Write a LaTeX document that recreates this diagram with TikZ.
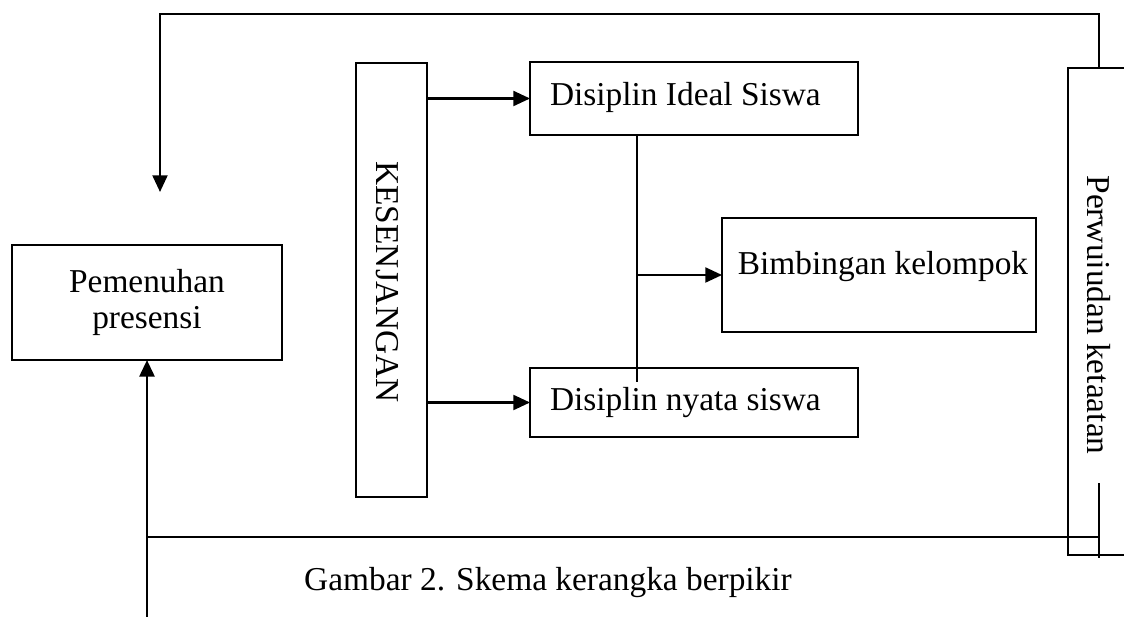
\documentclass[tikz,border=0pt]{standalone}
\usepackage{fontspec}
\setmainfont{Liberation Serif}
\usetikzlibrary{arrows.meta,calc}
\begin{document}
\begin{tikzpicture}[x=0.02cm,y=-0.02cm,
  box/.style={draw, line width=1.1pt, inner sep=0pt, outer sep=0pt},
  conn/.style={line width=1.3pt},
  arr/.style={conn, -{Triangle[length=9.5pt,width=8.5pt]}},
  txt/.style={font=\fontsize{19}{23}\selectfont, inner sep=0pt, outer sep=0pt}]
\useasboundingbox (0,0) rectangle (1124,617);

% boxes
\node[box, minimum width=5.4cm,  minimum height=2.3cm]  (pem)   at (147,302.5) {};
\node[box, minimum width=1.42cm, minimum height=8.68cm] (kes)   at (391.5,280) {};
\node[box, minimum width=6.56cm, minimum height=1.46cm] (ideal) at (694,98.5) {};
\node[box, minimum width=6.56cm, minimum height=1.38cm] (nyata) at (694,402.5) {};
\node[box, minimum width=6.28cm, minimum height=2.28cm] (bimb)  at (879,275) {};
\node[box, minimum width=1.64cm, minimum height=9.74cm] (perw)  at (1109,311.5) {};

% box labels
\node[txt, anchor=base] at (147,293) {Pemenuhan};
\node[txt, anchor=base] at (147,329) {presensi};
\node[txt, rotate=-90, anchor=base] at (376,282) {KESENJANGAN};
\node[txt, anchor=base west] at (550,106) {Disiplin Ideal Siswa};
\node[txt, anchor=base west] at (550,411) {Disiplin nyata siswa};
\node[txt, anchor=base] at (883,275) {Bimbingan kelompok};
\begin{scope}
  \clip (1087,0) rectangle (1124,617);
  \node[txt, rotate=-90, anchor=base] at (1087,315) {Perwujudan ketaatan};
\end{scope}

% helper points
\coordinate (rx)    at (1099,14);
\coordinate (drop)  at (160,192);
\coordinate (foot)  at (147,617);
\coordinate (hl)    at (147,537);
\coordinate (hr)    at (1099,537);
\coordinate (stubt) at (1099,483);
\coordinate (stubb) at (1099,558);
\coordinate (spine) at (637,382);

% feedback loop over the top
\draw[arr] (perw.north -| rx) -- (rx) -- (drop |- rx) -- (drop);

% bottom line and arrow into the left box
\draw[arr, line width=1.7pt] (foot) -- (pem.south);
\draw[conn] (hl) -- (hr);
\draw[conn] (stubt) -- (stubb);

% gap arrows
\draw[arr] (kes.east |- ideal.west) -- (ideal.west);
\draw[arr] (kes.east |- nyata.west) -- (nyata.west);

% spine between the two discipline boxes
\draw[conn] (ideal.south -| spine) -- (spine);
\draw[arr] (spine |- bimb.west) -- (bimb.west);

% caption
\node[txt, anchor=base] (cap) at (548,590) {Gambar 2. Skema kerangka berpikir};
\end{tikzpicture}
\end{document}
